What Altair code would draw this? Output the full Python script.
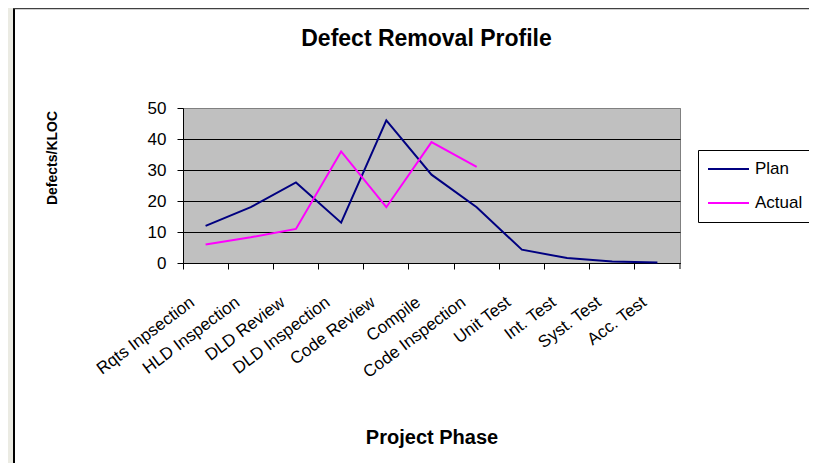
import altair as alt
import pandas as pd

phases = ["Rqts Inpsection", "HLD Inspection", "DLD Review", "DLD Inspection",
          "Code Review", "Compile", "Code Inspection", "Unit Test", "Int. Test",
          "Syst. Test", "Acc. Test"]
plan = [12, 18, 26, 13, 46, 28.5, 18, 4.3, 1.6, 0.5, 0.2]
actual = [6, 8.3, 11, 36, 18, 39, 31]
series = ["Plan", "Actual"]
colors = ["#000080", "#FF00FF"]
y_ticks = [0, 10, 20, 30, 40, 50]

rows = [{"phase": p, "series": "Plan", "value": v} for p, v in zip(phases, plan)]
rows += [{"phase": p, "series": "Actual", "value": v} for p, v in zip(phases, actual)]
df = pd.DataFrame(rows)

W, H = 497, 155
BW = W / len(phases)
FONT = "Liberation Sans"

lines = alt.Chart(df).mark_line(strokeWidth=2).encode(
    x=alt.X("phase:N", sort=phases, bandPosition=0.5,
            scale=alt.Scale(type="band", paddingInner=0, paddingOuter=0),
            axis=alt.Axis(title="Project Phase", bandPosition=0, labelOffset=-13,
                          labelAngle=-37, labelAlign="right", labelBaseline="middle",
                          labelPadding=31, labelFontSize=17, tickSize=6,
                          titleX=W / 2, titleY=174, titleBaseline="middle",
                          titleFontSize=20, titleFontWeight="bold", grid=False)),
    y=alt.Y("value:Q", scale=alt.Scale(domain=[0, 50], nice=False),
            axis=alt.Axis(title="Defects/KLOC", values=y_ticks, grid=True,
                          gridColor={"condition": {"test": "datum.value >= 50", "value": "#808080"}, "value": "black"},
                          tickSize=6, labelFontSize=17, labelPadding=11,
                          titleFontSize=14, titleFontWeight="bold",
                          titleX=-131, titleY=49.5, titleAlign="center", titleBaseline="middle")),
    color=alt.Color("series:N", sort=series,
                    scale=alt.Scale(domain=series, range=colors),
                    legend=alt.Legend(title=None, orient="none", legendX=515, legendY=42,
                                      symbolType="stroke", symbolSize=1681, symbolStrokeWidth=2,
                                      clipHeight=20, rowPadding=14, padding=9,
                                      labelFontSize=17, labelOffset=5,
                                      strokeColor="black", fillColor="white")),
)

frame_data = alt.Data(values=[{"k": 0}])
left_strip = alt.Chart(frame_data).mark_rule(color="#EBEBE3", strokeWidth=5).encode(
    x=alt.value(-172.5), y=alt.value(-100), y2=alt.value(H + 200))
left_line = alt.Chart(frame_data).mark_rule(color="black", strokeWidth=2).encode(
    x=alt.value(-169), y=alt.value(-100), y2=alt.value(H + 200))
top_line = alt.Chart(frame_data).mark_rule(color="#404040", strokeWidth=1.5).encode(
    x=alt.value(-170), x2=alt.value(W + 129), y=alt.value(-99.5))
end_tick = alt.Chart(frame_data).mark_rule(color="black").encode(
    x=alt.value(W), y=alt.value(H), y2=alt.value(H + 6))

chart = alt.layer(left_strip, left_line, top_line, lines, end_tick).properties(
    width=W, height=H,
    autosize=alt.AutoSizeParams(type="none"),
    padding={"left": 175, "top": 100, "right": 129, "bottom": 200},
    background="white",
    title=alt.TitleParams(text="Defect Removal Profile", fontSize=23, font=FONT,
                          fontWeight="bold", anchor="middle", frame="group",
                          baseline="alphabetic", offset=0, dy=63, dx=-5, color="black"),
).configure_view(
    fill="#C0C0C0", stroke="#808080", strokeWidth=1
).configure_axis(
    labelFont=FONT, titleFont=FONT, labelColor="black", titleColor="black",
    domainColor="black", tickColor="black"
).configure_legend(
    labelFont=FONT, labelColor="black"
)

chart.save("out.html", embed_options={"renderer": "svg", "actions": False})
